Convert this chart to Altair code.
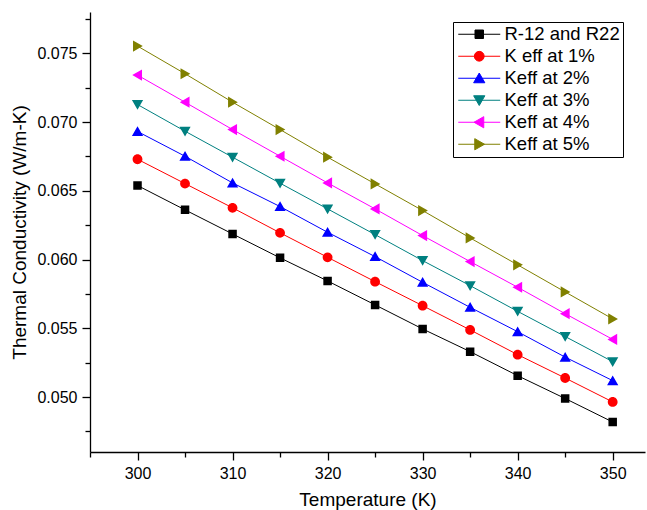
import altair as alt
import pandas as pd

temps = [300, 305, 310, 315, 320, 325, 330, 335, 340, 345, 350]
series_names = ["R-12 and R22", "K eff at 1%", "Keff at 2%", "Keff at 3%", "Keff at 4%", "Keff at 5%"]
r12 = [0.06538, 0.06361, 0.06186, 0.06012, 0.05844, 0.05670, 0.05495, 0.05330, 0.05155, 0.04989, 0.04818]
keff1 = [0.06729, 0.06552, 0.06376, 0.06194, 0.06016, 0.05839, 0.05664, 0.05488, 0.05308, 0.05138, 0.04964]
keff2 = [0.06931, 0.06751, 0.06557, 0.06385, 0.06198, 0.06021, 0.05834, 0.05652, 0.05475, 0.05290, 0.05119]
keff3 = [0.07127, 0.06933, 0.06744, 0.06555, 0.06368, 0.06181, 0.05992, 0.05810, 0.05623, 0.05440, 0.05257]
keff4 = [0.07341, 0.07144, 0.06945, 0.06751, 0.06557, 0.06368, 0.06174, 0.05985, 0.05798, 0.05606, 0.05419]
keff5 = [0.07552, 0.07351, 0.07144, 0.06945, 0.06744, 0.06550, 0.06356, 0.06157, 0.05961, 0.05764, 0.05568]

colors = ["#000000", "#FF0000", "#0000FF", "#008080", "#FF00FF", "#808000"]
x_ticks = [295, 300, 305, 310, 315, 320, 325, 330, 335, 340, 345, 350]
y_ticks = [0.0475, 0.05, 0.0525, 0.055, 0.0575, 0.06, 0.0625, 0.065, 0.0675, 0.07, 0.0725, 0.075, 0.0775]

# marker shapes (square, circle, triangle up/down/left/right) with a legend line segment
marker_paths = [
    "M-0.85,-0.85H0.85V0.85H-0.85Z",
    "M0.98,0A0.98,0.98,0,1,1,-0.98,0A0.98,0.98,0,1,1,0.98,0Z",
    "M0,-1.05L1.12,0.9L-1.12,0.9Z",
    "M0,1.05L1.12,-0.9L-1.12,-0.9Z",
    "M-1.05,0L0.9,-1.12L0.9,1.12Z",
    "M1.05,0L-0.9,-1.12L-0.9,1.12Z",
]
shape_paths = ["M-4.2,0H4.2" + p for p in marker_paths]

rows = []
for name, vals in zip(series_names, [r12, keff1, keff2, keff3, keff4, keff5]):
    for t, v in zip(temps, vals):
        rows.append({"T": t, "k": v, "series": name})
df = pd.DataFrame(rows)

FONT = "Liberation Sans"

x_enc = alt.X(
    "T:Q",
    scale=alt.Scale(domain=[295, 353.4], nice=False, zero=False),
    axis=alt.Axis(
        values=x_ticks,
        labelExpr="datum.value % 10 === 0 ? datum.label : ''",
        tickSize={"condition": {"test": "datum.value % 10 === 0", "value": 8}, "value": 5},
        title="Temperature (K)",
        grid=False,
        labelPadding=5,
        titlePadding=9,
    ),
)
y_enc = alt.Y(
    "k:Q",
    scale=alt.Scale(domain=[0.046, 0.078], nice=False, zero=False),
    axis=alt.Axis(
        values=y_ticks,
        format=".3f",
        labelExpr="round(datum.value * 2000) % 10 === 0 ? datum.label : ''",
        tickSize={"condition": {"test": "round(datum.value * 2000) % 10 === 0", "value": 8}, "value": 5},
        title="Thermal Conductivity (W/m-K)",
        grid=False,
        labelPadding=5,
        titlePadding=7,
    ),
)

dom = alt.Scale(domain=series_names, range=colors)
shape_scale = alt.Scale(domain=series_names, range=shape_paths)

legend = alt.Legend(
    title=None,
    orient="none",
    legendX=363,
    legendY=10,
    padding=3,
    strokeColor="#000000",
    fillColor="#ffffff",
    labelFont=FONT,
    labelFontSize=18.5,
    labelColor="#000000",
    symbolSize=100,
    symbolOffset=14,
    labelOffset=16,
    rowPadding=3,
    symbolStrokeWidth=1,
    symbolOpacity=1,
    labelLimit=300,
)

lines = alt.Chart(df).mark_line(strokeWidth=1).encode(
    x=x_enc, y=y_enc,
    stroke=alt.Stroke("series:N", scale=dom, legend=legend),
    detail="series:N",
)
points = alt.Chart(df).mark_point(filled=True, size=100, opacity=1).encode(
    x=x_enc, y=y_enc,
    fill=alt.Fill("series:N", scale=dom, legend=legend),
    shape=alt.Shape("series:N", scale=shape_scale, legend=legend),
)

chart = alt.layer(lines, points).properties(
    width=555,
    height=440,
    padding={"left": 90, "top": 12, "right": 2, "bottom": 58},
    autosize=alt.AutoSizeParams(type="none"),
    background="#ffffff",
).configure_view(stroke=None).configure_axis(
    domainColor="#000000",
    domainWidth=1.3,
    tickColor="#000000",
    tickWidth=1.3,
    labelFont=FONT,
    labelFontSize=16,
    labelColor="#000000",
    titleFont=FONT,
    titleFontSize=19,
    titleFontWeight="normal",
    titleColor="#000000",
)

chart.save("out.html", embed_options={"renderer": "svg", "actions": False})
